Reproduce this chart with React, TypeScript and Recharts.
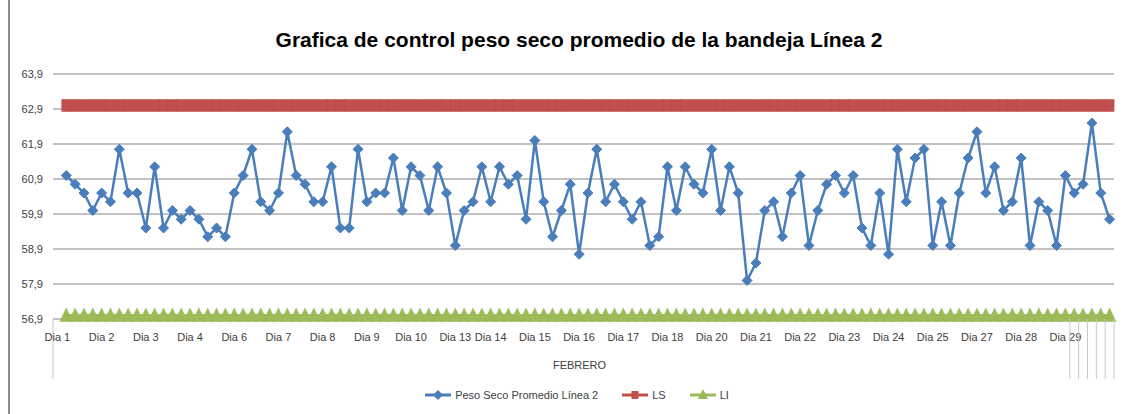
import React from 'react';
import { LineChart, Line, XAxis, YAxis, CartesianGrid, Legend } from 'recharts';

// Peso seco promedio, one value per sample (119 samples in February)
const pesoSeco = [
  61.0, 60.75, 60.5, 60.0, 60.5, 60.25, 61.75, 60.5, 60.5, 59.5, 61.25, 59.5, 60.0, 59.75, 60.0, 59.75, 59.25,
  59.5, 59.25, 60.5, 61.0, 61.75, 60.25, 60.0, 60.5, 62.25, 61.0, 60.75, 60.25, 60.25, 61.25, 59.5, 59.5, 61.75,
  60.25, 60.5, 60.5, 61.5, 60.0, 61.25, 61.0, 60.0, 61.25, 60.5, 59.0, 60.0, 60.25, 61.25, 60.25, 61.25, 60.75,
  61.0, 59.75, 62.0, 60.25, 59.25, 60.0, 60.75, 58.75, 60.5, 61.75, 60.25, 60.75, 60.25, 59.75, 60.25, 59.0, 59.25,
  61.25, 60.0, 61.25, 60.75, 60.5, 61.75, 60.0, 61.25, 60.5, 58.0, 58.5, 60.0, 60.25, 59.25, 60.5, 61.0, 59.0,
  60.0, 60.75, 61.0, 60.5, 61.0, 59.5, 59.0, 60.5, 58.75, 61.75, 60.25, 61.5, 61.75, 59.0, 60.25, 59.0, 60.5,
  61.5, 62.25, 60.5, 61.25, 60.0, 60.25, 61.5, 59.0, 60.25, 60.0, 59.0, 61.0, 60.5, 60.75, 62.5, 60.5, 59.75,
];

// control limits
const limiteSuperior = 63.0;
const limiteInferior = 57.0;

// day labels and the category where each one sits
const dayLabels = [
  'Dia 1', 'Dia 2', 'Dia 3', 'Dia 4', 'Dia 6', 'Dia 7', 'Dia 8', 'Dia 9', 'Dia 10', 'Dia 13', 'Dia 14', 'Dia 15',
  'Dia 16', 'Dia 17', 'Dia 18', 'Dia 20', 'Dia 21', 'Dia 22', 'Dia 23', 'Dia 24', 'Dia 25', 'Dia 27', 'Dia 28', 'Dia 29',
];
const dayStart = [0, 5, 10, 15, 20, 25, 30, 35, 40, 45, 49, 54, 59, 64, 69, 74, 79, 84, 89, 94, 99, 104, 109, 114];
const groupLines = [0, 115, 116, 117, 118, 119, 120];

const yTicks = [56.9, 57.9, 58.9, 59.9, 60.9, 61.9, 62.9, 63.9];

const W = 1139;
const H = 414;
const MARGIN = { top: 74, right: 25, bottom: 7, left: 8 };
const Y_AXIS_W = 45;
const N_CATS = pesoSeco.length + 1; // first category is empty
const PLOT_W = W - MARGIN.left - MARGIN.right - Y_AXIS_W;
const BAND = PLOT_W / N_CATS;

const BLUE = '#4A7EBB';
const RED = '#C0504D';
const GREEN = '#9BBB59';
const TEXT = '#404040';
const FONT = '"Liberation Sans", Arial, sans-serif';

const labelAt: Record<number, string> = {};
dayStart.forEach((k, i) => (labelAt[k] = dayLabels[i]));

const chartData = Array.from({ length: N_CATS }, (_, k) => ({
  cat: 'k' + k,
  peso: k === 0 ? null : pesoSeco[k - 1],
  ls: k === 0 ? null : limiteSuperior,
  li: k === 0 ? null : limiteInferior,
}));

const DiamondDot = (props: any) => {
  const { cx, cy, index } = props;
  if (cx == null || cy == null) return <g key={'d' + index} />;
  const r = 5;
  return (
    <path
      key={'d' + index}
      d={`M${cx},${cy - r}L${cx + r},${cy}L${cx},${cy + r}L${cx - r},${cy}Z`}
      fill={BLUE}
      stroke={BLUE}
      strokeWidth={1}
    />
  );
};

const SquareDot = (props: any) => {
  const { cx, cy, index } = props;
  if (cx == null || cy == null) return <g key={'s' + index} />;
  const s = 6;
  return <rect key={'s' + index} x={cx - s / 2 - 1.5} y={cy - s} width={s + 3} height={s * 2} fill={RED} stroke="#B9494A" strokeWidth={0.5} />;
};

const TriangleDot = (props: any) => {
  const { cx, cy, index } = props;
  if (cx == null || cy == null) return <g key={'t' + index} />;
  return (
    <path
      key={'t' + index}
      d={`M${cx},${cy - 7.5}L${cx + 6.5},${cy + 6}L${cx - 6.5},${cy + 6}Z`}
      fill={GREEN}
      stroke={GREEN}
      strokeWidth={0.5}
    />
  );
};

const DayTick = (props: any) => {
  const { x, y, payload } = props;
  const k = Number(String(payload.value).slice(1));
  const label = labelAt[k];
  const lines = [groupLines.includes(k) ? k : -1, k === N_CATS - 1 ? N_CATS : -1].filter((v) => v >= 0);
  return (
    <g>
      {lines.map((g) => (
        <line
          key={g}
          x1={x - BAND / 2 + (g - k) * BAND}
          x2={x - BAND / 2 + (g - k) * BAND}
          y1={y - 8}
          y2={y + 52}
          stroke="#C8C8C8"
          strokeWidth={1}
        />
      ))}
      {label && (
        <text x={x} y={y + 14} textAnchor="middle" fill={TEXT} fontSize={11} fontFamily={FONT}>
          {label}
        </text>
      )}
    </g>
  );
};

const LegendRow = () => {
  const item = (color: string, marker: React.ReactNode, text: string) => (
    <span style={{ display: 'inline-flex', alignItems: 'center', marginRight: 24 }}>
      <svg width={26} height={12} style={{ marginRight: 4 }}>
        <line x1={0} y1={6} x2={26} y2={6} stroke={color} strokeWidth={3} />
        {marker}
      </svg>
      <span>{text}</span>
    </span>
  );
  return (
    <div
      style={{
        display: 'flex',
        justifyContent: 'center',
        alignItems: 'center',
        height: 24,
        paddingLeft: 56,
        fontSize: 11,
        fontFamily: FONT,
        color: TEXT,
      }}
    >
      {item(BLUE, <path d="M13,1L18,6L13,11L8,6Z" fill={BLUE} />, 'Peso Seco Promedio Línea 2')}
      {item(RED, <rect x={9.5} y={2} width={7} height={8} fill={RED} />, 'LS')}
      {item(GREEN, <path d="M13,0L18,10L8,10Z" fill={GREEN} />, 'LI')}
    </div>
  );
};

export default function App() {
  return (
    <div style={{ position: 'fixed', left: 0, top: 0, width: W, height: H, background: '#fff', fontFamily: FONT }}>
      <div style={{ position: 'absolute', left: 8, top: 0, height: H, borderLeft: '2px solid #8C8C8C' }} />
      <div
        style={{
          position: 'absolute',
          top: 27,
          left: 0,
          width: 1158,
          textAlign: 'center',
          fontSize: 21,
          fontWeight: 'bold',
          color: '#000',
          lineHeight: '26px',
        }}
      >
        Grafica de control peso seco promedio de la bandeja Línea 2
      </div>
      <div style={{ position: 'absolute', left: 0, top: 0 }}>
        <LineChart width={W} height={H} data={chartData} margin={MARGIN}>
          <CartesianGrid vertical={false} stroke="#868686" strokeWidth={1} />
          <XAxis
            dataKey="cat"
            type="category"
            interval={0}
            height={64}
            padding={{ left: BAND / 2, right: BAND / 2 }}
            axisLine={false}
            tickLine={false}
            tick={<DayTick />}
            label={{ value: 'FEBRERO', position: 'insideBottom', offset: 14, fill: TEXT, fontSize: 11, fontFamily: FONT, dx: -4 }}
          />
          <YAxis
            domain={[56.9, 63.9]}
            ticks={yTicks}
            width={Y_AXIS_W}
            axisLine={false}
            tickLine={false}
            tickMargin={4}
            tick={{ fill: TEXT, fontSize: 11, fontFamily: FONT }}
            tickFormatter={(v: number) => v.toFixed(1).replace('.', ',')}
          />
          <Legend verticalAlign="bottom" height={24} content={() => <LegendRow />} />
          <Line
            dataKey="li"
            name="LI"
            stroke={GREEN}
            strokeWidth={3}
            dot={TriangleDot}
            activeDot={false}
            isAnimationActive={false}
          />
          <Line
            dataKey="ls"
            name="LS"
            stroke={RED}
            strokeWidth={3}
            dot={SquareDot}
            activeDot={false}
            isAnimationActive={false}
          />
          <Line
            dataKey="peso"
            name="Peso Seco Promedio Línea 2"
            stroke={BLUE}
            strokeWidth={2.5}
            dot={DiamondDot}
            activeDot={false}
            isAnimationActive={false}
          />
        </LineChart>
      </div>
    </div>
  );
}
